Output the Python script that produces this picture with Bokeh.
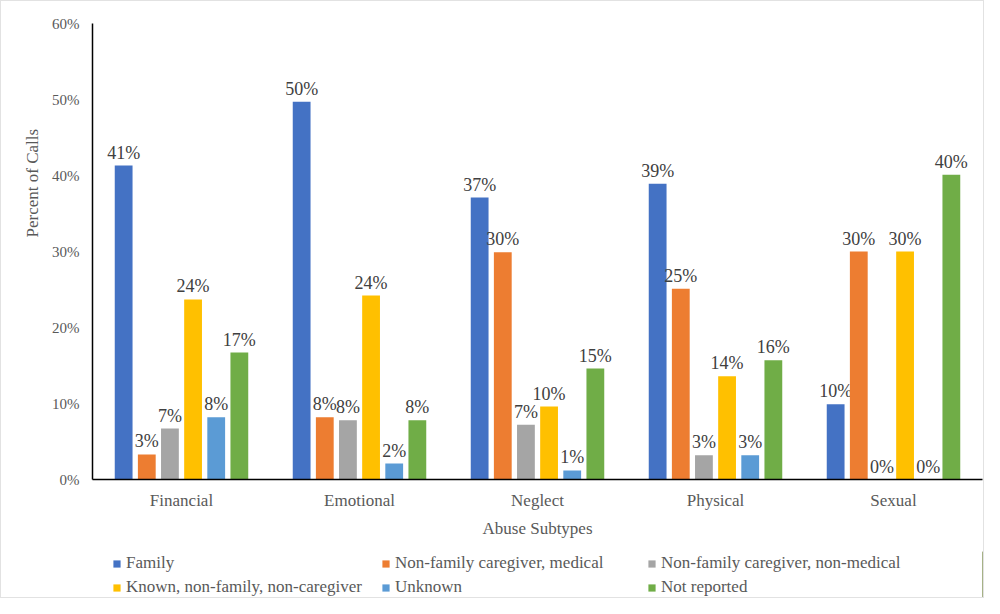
from bokeh.plotting import figure
from bokeh.layouts import column
from bokeh.models import (ColumnDataSource, FactorRange, FixedTicker, PrintfTickFormatter,
                          Legend, LegendItem, Title)
from bokeh.transform import dodge
from bokeh.core.properties import value
from bokeh.embed import file_html
from bokeh.resources import INLINE

categories = ["Financial", "Emotional", "Neglect", "Physical", "Sexual"]
series_names = ["Family", "Non-family caregiver, medical", "Non-family caregiver, non-medical",
                "Known, non-family, non-caregiver", "Unknown", "Not reported"]
family = [41.3, 49.7, 37.1, 38.9, 9.9]
nf_medical = [3.3, 8.2, 29.9, 25.1, 30.0]
nf_nonmedical = [6.7, 7.8, 7.2, 3.2, 0.0]
known = [23.7, 24.2, 9.6, 13.6, 30.0]
unknown = [8.2, 2.1, 1.2, 3.2, 0.0]
not_reported = [16.7, 7.8, 14.6, 15.7, 40.1]
y_ticks = [0, 10, 20, 30, 40, 50, 60]

series_values = [family, nf_medical, nf_nonmedical, known, unknown, not_reported]
colors = ["#4472C4", "#ED7D31", "#A5A5A5", "#FFC000", "#5B9BD5", "#70AD47"]

FONT = "Liberation Serif"
GRAY = "#595959"

p = figure(x_range=FactorRange(factors=categories), y_range=(0, 60),
           width=982, height=550, output_backend="svg", toolbar_location=None,
           min_border_left=91, min_border_right=1, min_border_top=22, min_border_bottom=72)

p.xgrid.grid_line_color = None
p.ygrid.grid_line_color = None
p.outline_line_color = None

for i, (name, vals, col) in enumerate(zip(series_names, series_values, colors)):
    off = (i - 2.5) * 0.13
    src = ColumnDataSource(dict(cat=categories, val=vals,
                                lab=[f"{round(v)}%" for v in vals]))
    p.vbar(x=dodge("cat", off, range=p.x_range), top="val", width=0.1,
           source=src, fill_color=col, line_color=None)
    p.text(x=dodge("cat", off, range=p.x_range), y="val", text="lab", source=src,
           text_font=value(FONT), text_font_size="18px", text_color="#404040",
           text_align="center", text_baseline="bottom", y_offset=-3)

# axes
p.yaxis.ticker = FixedTicker(ticks=y_ticks)
p.yaxis.formatter = PrintfTickFormatter(format="%d%%")
for ax in (p.xaxis, p.yaxis):
    ax.major_tick_line_color = None
    ax.minor_tick_line_color = None
    ax.axis_line_color = "#000000"
    ax.axis_line_width = 1.5
    ax.major_label_text_font = FONT
    ax.major_label_text_color = GRAY
p.yaxis.major_label_text_font_size = "15px"
p.yaxis.major_label_standoff = 7
p.xaxis.major_label_text_font_size = "17px"
p.xaxis.major_label_standoff = 5
p.xaxis.axis_label = "Abuse Subtypes"
p.xaxis.axis_label_text_font = FONT
p.xaxis.axis_label_text_font_size = "17px"
p.xaxis.axis_label_text_font_style = "normal"
p.xaxis.axis_label_text_color = GRAY
p.xaxis.axis_label_standoff = 6

ytitle = Title(text="Percent of Calls", align="left", offset=242,
               text_font=FONT, text_font_size="17px", text_font_style="normal",
               text_color=GRAY, standoff=16)
p.add_layout(ytitle, "left")

# legend strip (same series colours), three columns x two rows
lf = figure(width=982, height=46, output_backend="svg", toolbar_location=None,
            x_axis_type=None, y_axis_type=None, x_range=(0, 1), y_range=(0, 1),
            min_border_left=91, min_border_right=1, min_border_top=0, min_border_bottom=0)
lf.outline_line_color = None
lf.xgrid.grid_line_color = None
lf.ygrid.grid_line_color = None
leg_renderers = []
for name, col in zip(series_names, colors):
    # swatch-only renderer, its single bar lies outside the visible range
    r = lf.vbar(x=[5], top=[1], width=0.1, fill_color=col, line_color=None)
    leg_renderers.append(r)

col_x = [20, 289, 555]
for c in range(3):
    items = [LegendItem(label=series_names[c], renderers=[leg_renderers[c]]),
             LegendItem(label=series_names[c + 3], renderers=[leg_renderers[c + 3]])]
    leg = Legend(items=items, location=(col_x[c], 0), orientation="vertical",
                 glyph_width=9, glyph_height=9, label_height=20, spacing=4,
                 padding=0, margin=0, border_line_alpha=0, background_fill_alpha=0,
                 label_text_font=FONT, label_text_font_size="17px",
                 label_text_color=GRAY, label_standoff=5)
    lf.add_layout(leg)

layout = column(p, lf, spacing=0, styles={"border": "1px solid #e2e2e2"})

open("out.html", "w").write(file_html(layout, INLINE))
